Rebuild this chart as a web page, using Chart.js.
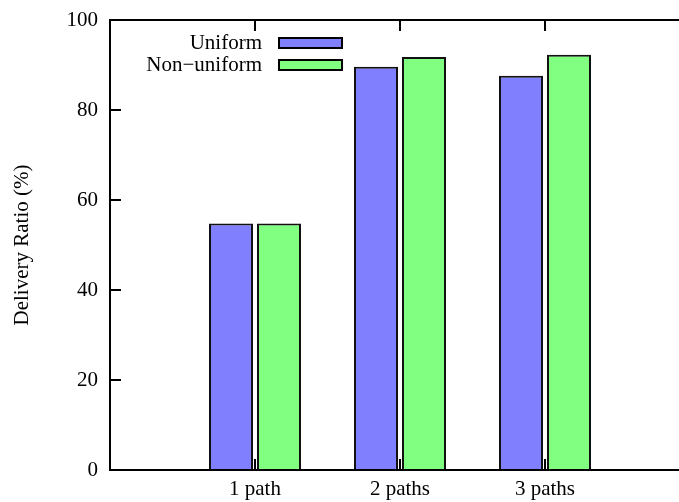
<!DOCTYPE html>
<html>
<head>
<meta charset="utf-8">
<script src="https://cdn.jsdelivr.net/npm/chart.js@4/dist/chart.umd.min.js"></script>
<style>
  html, body { margin: 0; padding: 0; background: #fff; overflow: hidden; }
  #wrap { width: 700px; height: 502px; }
</style>
</head>
<body>
<div id="wrap"><canvas id="c" width="700" height="502"></canvas></div>
<script>
// Path-count categories and their positions on the x axis
const categories = ['1 path', '2 paths', '3 paths'];
const categoryPositions = [1, 2, 3];

// Delivery ratio (%) per routing scheme
const uniform = [54.8, 89.6, 87.6];
const nonUniform = [54.8, 91.8, 92.3];

const yTicks = [0, 20, 40, 60, 80, 100];

const FONT = { family: '"Liberation Serif", "Times New Roman", serif', size: 21 };
const TICK_LEN = 11;

function toPoints(values) {
  return values.map((v, i) => ({ x: categoryPositions[i], y: v }));
}

// gnuplot-style frame: inward ticks on all four sides plus a closed border
const framePlugin = {
  id: 'frame',
  beforeDatasetsDraw(chart) {
    const { ctx, chartArea: a, scales } = chart;
    ctx.save();
    ctx.strokeStyle = '#000';
    ctx.lineWidth = 2;
    ctx.beginPath();
    yTicks.forEach(v => {
      const y = Math.round(scales.y.getPixelForValue(v));
      ctx.moveTo(a.left, y); ctx.lineTo(a.left + TICK_LEN, y);
      ctx.moveTo(a.right, y); ctx.lineTo(a.right - TICK_LEN, y);
    });
    categoryPositions.forEach(v => {
      const x = Math.round(scales.x.getPixelForValue(v));
      ctx.moveTo(x, a.bottom); ctx.lineTo(x, a.bottom - TICK_LEN);
      ctx.moveTo(x, a.top); ctx.lineTo(x, a.top + TICK_LEN);
    });
    ctx.stroke();
    ctx.restore();
  },
  afterDatasetsDraw(chart) {
    const { ctx, chartArea: a } = chart;
    ctx.save();
    ctx.strokeStyle = '#000';
    ctx.lineWidth = 2;
    ctx.strokeRect(a.left, a.top, a.right - a.left, a.bottom - a.top);

    // key: right-aligned label followed by a filled sample box
    ctx.font = FONT.size + 'px ' + FONT.family;
    ctx.textAlign = 'right';
    ctx.textBaseline = 'middle';
    chart.data.datasets.forEach((ds, i) => {
      const cy = a.top + 23 + i * 22;
      ctx.fillStyle = '#000';
      ctx.fillText(ds.label, a.left + 152, cy);
      ctx.fillStyle = ds.backgroundColor;
      ctx.fillRect(a.left + 169, cy - 5, 63, 10);
      ctx.lineWidth = 2;
      ctx.strokeStyle = '#000';
      ctx.strokeRect(a.left + 169, cy - 5, 63, 10);
    });
    ctx.restore();
  }
};

new Chart(document.getElementById('c'), {
  type: 'bar',
  data: {
    datasets: [
      {
        label: 'Uniform',
        data: toPoints(uniform),
        backgroundColor: '#8080ff',
        borderColor: '#111',
        borderWidth: 2,
        categoryPercentage: 0.662,
        barPercentage: 0.917
      },
      {
        label: 'Non\u2212uniform',
        data: toPoints(nonUniform),
        backgroundColor: '#80ff80',
        borderColor: '#111',
        borderWidth: 2,
        categoryPercentage: 0.662,
        barPercentage: 0.917
      }
    ]
  },
  options: {
    responsive: false,
    animation: false,
    layout: { padding: { left: 0, right: 10, top: 20, bottom: 0 } },
    plugins: {
      legend: { display: false },
      tooltip: { enabled: false }
    },
    scales: {
      x: {
        type: 'linear',
        min: 0,
        max: 4,
        offset: false,
        grid: { display: false, drawTicks: false, offset: false },
        border: { display: false },
        ticks: {
          stepSize: 1,
          padding: 7,
          color: '#000',
          font: FONT,
          maxRotation: 0,
          autoSkip: false,
          callback: v => {
            const i = categoryPositions.indexOf(v);
            return i >= 0 ? categories[i] : '';
          }
        },
        afterFit: s => { s.height = 32; }
      },
      y: {
        min: 0,
        max: 100,
        grid: { display: false, drawTicks: false },
        border: { display: false },
        ticks: {
          stepSize: 20,
          padding: 12,
          color: '#000',
          font: FONT
        },
        title: {
          display: true,
          text: 'Delivery Ratio (%)',
          color: '#000',
          font: FONT,
          padding: { top: 10, bottom: 0 }
        },
        afterFit: s => {
          s.width = 110;
          s.paddingTop = 12;
          s.paddingBottom = 12;
        }
      }
    }
  },
  plugins: [framePlugin]
});
</script>
</body>
</html>
